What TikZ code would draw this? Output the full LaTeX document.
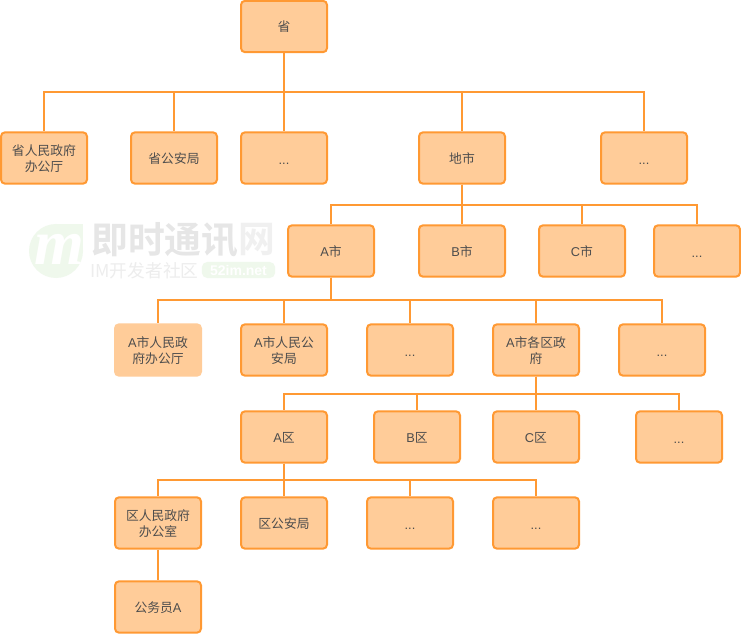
\documentclass[tikz,border=0pt]{standalone}
\usepackage{fontspec}
\setmainfont{Liberation Sans}
\newfontfamily\cjk{Noto Sans CJK SC}
\newfontfamily\cjkb{Noto Sans CJK SC Bold}
\newfontfamily\latn{Liberation Sans}
\newfontfamily\lserif{Liberation Serif}
\definecolor{boxfill}{HTML}{FFCC99}
\definecolor{boxline}{HTML}{FF9933}
\definecolor{boxtext}{HTML}{4D4D4D}
\definecolor{wmgreen}{HTML}{EFF8EC}
\definecolor{wmgray}{HTML}{E6E6E6}
\definecolor{wmpale}{HTML}{F0F0F0}
\definecolor{wmlight}{HTML}{EDEDED}
\newcommand{\La}[1]{{\latn #1}}
\newcommand{\Dots}{\raisebox{-4.6pt}[0pt][0pt]{\latn ...}}
\newcommand{\Tx}[1]{\raisebox{-4pt}[0pt][0pt]{\begin{tabular}{@{}c@{}}#1\end{tabular}}}
\begin{document}
\begin{tikzpicture}[x=0.75pt,y=-0.75pt,
  orgbox/.style={draw=boxline,line width=1.5pt,fill=boxfill,rounded corners=3pt,
    minimum width=64.5pt,minimum height=38.5pt,inner sep=0pt,
    text=boxtext,font=\cjk\fontsize{9.6}{12}\selectfont},
  plainbox/.style={orgbox,draw=boxfill},
  link/.style={draw=boxline,line width=1.5pt}]
\useasboundingbox (0,0) rectangle (741,634);
\fill[white] (0,0) rectangle (741,634);
% watermark
\fill[wmgreen] (56,251) circle[radius=27];
\fill[wmgreen] (56,224) -- (83,224) -- (83,251) -- (56,251) -- cycle;
\node[text=white,font=\lserif\fontsize{48}{48}\selectfont\bfseries\itshape,inner sep=0pt] (wmm) at (59.5,249) {m};
\node[text=wmgray,font=\cjkb\fontsize{27.6}{28}\selectfont,inner sep=0pt,anchor=west] (wmt) at (91,240) {即时通讯};
\node[text=wmpale,font=\cjkb\fontsize{27.6}{28}\selectfont,inner sep=0pt,anchor=west] (wmw) at (238.5,240) {网};
\node[text=wmlight,font=\cjk\fontsize{13.3}{14}\selectfont,inner sep=0pt,anchor=west] (wms) at (90,271) {IM开发者社区};
\node[fill=wmgreen,rounded corners=4pt,text=white,font=\fontsize{10.5}{11}\selectfont\bfseries,
  minimum width=55pt,minimum height=12pt,inner sep=0pt] (wmp) at (238.5,270) {52im.net};

% coordinates of buses
\coordinate (b1) at (284,92);
\coordinate (b2) at (462,205);
\coordinate (b3) at (331,300);
\coordinate (b4) at (536,394);
\coordinate (b5) at (284,480);

% nodes
\node[orgbox] (top) at (284,26.5) {\Tx{省}};

\node[orgbox] (r1a) at (44,158) {\Tx{省人民政府\\办公厅}};
\node[orgbox] (r1b) at (174,158) {\Tx{省公安局}};
\node[orgbox] (r1c) at (284,158) {\Dots};
\node[orgbox] (r1d) at (462,158) {\Tx{地市}};
\node[orgbox] (r1e) at (644,158) {\Dots};

\node[orgbox] (r2a) at (331,251) {\Tx{\La{A}市}};
\node[orgbox] (r2b) at (462,251) {\Tx{\La{B}市}};
\node[orgbox] (r2c) at (582,251) {\Tx{\La{C}市}};
\node[orgbox] (r2d) at (697,251) {\Dots};

\node[plainbox] (r3a) at (158,350) {\Tx{\La{A}市人民政\\府办公厅}};
\node[orgbox] (r3b) at (284,350) {\Tx{\La{A}市人民公\\安局}};
\node[orgbox] (r3c) at (410,350) {\Dots};
\node[orgbox] (r3d) at (536,350) {\Tx{\La{A}市各区政\\府}};
\node[orgbox] (r3e) at (662,350) {\Dots};

\node[orgbox] (r4a) at (284,437) {\Tx{\La{A}区}};
\node[orgbox] (r4b) at (417,437) {\Tx{\La{B}区}};
\node[orgbox] (r4c) at (536,437) {\Tx{\La{C}区}};
\node[orgbox] (r4d) at (679,437) {\Dots};

\node[orgbox] (r5a) at (158,523) {\Tx{区人民政府\\办公室}};
\node[orgbox] (r5b) at (284,523) {\Tx{区公安局}};
\node[orgbox] (r5c) at (410,523) {\Dots};
\node[orgbox] (r5d) at (536,523) {\Dots};

\node[orgbox] (r6a) at (158,607) {\Tx{公务员\La{A}}};

% connectors
\foreach \c in {r1a,r1b,r1c,r1d,r1e} \draw[link] (top.south) -- (b1) -| (\c.north);
\foreach \c in {r2a,r2b,r2c,r2d} \draw[link] (r1d.south) -- (b2) -| (\c.north);
\foreach \c in {r3a,r3b,r3c,r3d,r3e} \draw[link] (r2a.south) -- (b3) -| (\c.north);
\foreach \c in {r4a,r4b,r4c,r4d} \draw[link] (r3d.south) -- (b4) -| (\c.north);
\foreach \c in {r5a,r5b,r5c,r5d} \draw[link] (r4a.south) -- (b5) -| (\c.north);
\draw[link] (r5a.south) -- (r6a.north);
\end{tikzpicture}
\end{document}
